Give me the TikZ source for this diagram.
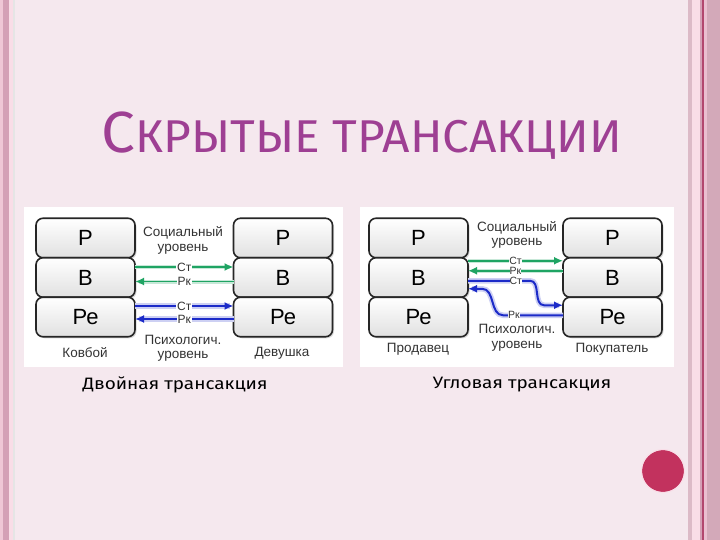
\documentclass[tikz,border=0pt]{standalone}
\usepackage{fontspec}
\setmainfont{Liberation Sans}
\newfontfamily\gothic{Fira Sans}
\usetikzlibrary{arrows.meta,positioning,shadows}
\definecolor{slideBg}{HTML}{F5E8EE}
\definecolor{slideTitle}{HTML}{9E3F93}
\definecolor{stripeA}{HTML}{EFC7D6}
\definecolor{stripeB}{HTML}{D4A0B6}
\definecolor{stripeC}{HTML}{F9DDE7}
\definecolor{stripeD}{HTML}{B2476E}
\definecolor{stripeE}{HTML}{D3A9B9}
\definecolor{arrGreen}{HTML}{1FA463}
\definecolor{arrBlue}{HTML}{1C2BC8}
\definecolor{dotRed}{HTML}{C2325E}
\definecolor{txtGray}{HTML}{333333}

\begin{document}
\begin{tikzpicture}[x=1pt,y=-1pt,
every node/.style={font=\fontsize{13.5}{15}\selectfont, text=txtGray},
ego/.style={draw=black!85, line width=1.6pt, rounded corners=7pt, minimum width=99pt, minimum height=39.5pt, outer sep=0pt, inner sep=0pt, top color=white, bottom color=black!12, drop shadow={opacity=0.3, shadow xshift=1.5pt, shadow yshift=-1.5pt}, font=\fontsize{22}{24}\selectfont, text=black},
lvl/.style={align=center, font=\fontsize{13.5}{14.5}\selectfont},
tag/.style={fill=white, inner sep=1pt, font=\fontsize{12}{13}\selectfont},
tagS/.style={fill=white, inner sep=0pt, font=\fontsize{10.5}{11}\selectfont},
subcap/.style={text=black},
garr/.style={-{Latex[length=9pt,width=8pt]}, arrGreen, line width=1.8pt, preaction={draw, arrGreen!25, line width=4pt, -, shorten >=4pt}},
barr/.style={-{Latex[length=9pt,width=8pt]}, arrBlue, line width=2pt, preaction={draw, arrBlue!22, line width=5.5pt, -, shorten >=4pt}}
]
% slide background and side stripes
\useasboundingbox (0,0) rectangle (720,540);
\fill[slideBg] (0,0) rectangle (720,540);
\fill[stripeA] (0,0) rectangle (3,540);
\fill[stripeB] (3,0) rectangle (9,540);
\fill[stripeC] (9,0) rectangle (13,540);
\fill[white!80!gray] (13,0) rectangle (14.5,540);
\fill[stripeE!80!white] (688,0) rectangle (692,540);
\fill[stripeC] (692,0) rectangle (700,540);
\fill[stripeB] (700,0) rectangle (702,540);
\fill[stripeD] (702,0) rectangle (703.5,540);
\fill[stripeA!80!stripeB] (703.5,0) rectangle (707,540);
\fill[stripeE] (707,0) rectangle (720,540);

% title
\node[anchor=base, text=slideTitle, inner sep=0pt] (title) at (362,153) {\scalebox{1.04}[1]{\gothic\fontsize{58}{58}\selectfont С\fontsize{46}{46}\selectfont КРЫТЫЕ ТРАНСАКЦИИ}};

% left panel: double transaction
\fill[white] (24,207) rectangle (343,367);
\node[ego] (kP) at (85.5,238) {Р};
\node[ego, below=0pt of kP] (kB) {В};
\node[ego, below=0pt of kB] (kPe) {Ре};
\node[ego] (dP) at (283,238) {Р};
\node[ego, below=0pt of dP] (dB) {В};
\node[ego, below=0pt of dB] (dPe) {Ре};
\node[lvl] (kSoc) at (183,240.5) {Социальный\\уровень};
\node[lvl] (kPsy) at (183,348.5) {Психологич.\\уровень};
\node (kName) at (85,353) {Ковбой};
\node (dName) at (282,353) {Девушка};
\draw[garr] ([yshift=10.5pt]kB.east) -- node[tag]{Ст} ([yshift=10.5pt]dB.west);
\draw[garr] ([yshift=-4pt]dB.west) -- node[tag]{Рк} ([yshift=-4pt]kB.east);
\draw[barr] ([yshift=11pt]kPe.east) -- node[tag]{Ст} ([yshift=11pt]dPe.west);
\draw[barr] ([yshift=-2pt]dPe.west) -- node[tag]{Рк} ([yshift=-2pt]kPe.east);
\node[subcap] (kCap) at (175,385) {\scalebox{1.15}[1]{\gothic\fontsize{16.5}{18}\selectfont Двойная трансакция}};

% right panel: angular transaction
\fill[white] (360,207) rectangle (674,367);
\node[ego] (pP) at (418.5,238) {Р};
\node[ego, below=0pt of pP] (pB) {В};
\node[ego, below=0pt of pB] (pPe) {Ре};
\node[ego] (cP) at (612.5,238) {Р};
\node[ego, below=0pt of cP] (cB) {В};
\node[ego, below=0pt of cB] (cPe) {Ре};
\node[lvl] (pSoc) at (517,235) {Социальный\\уровень};
\node[lvl] (pPsy) at (517,338) {Психологич.\\уровень};
\node (pName) at (418,349) {Продавец};
\node (cName) at (612,349) {Покупатель};
\draw[garr] ([yshift=16.75pt]pB.east) -- node[tagS]{Ст} ([yshift=16.75pt]cB.west);
\draw[garr] ([yshift=6.75pt]cB.west) -- node[tagS]{Рк} ([yshift=6.75pt]pB.east);
\draw[barr] ([yshift=-3.25pt]pB.east) -- ++(62,0) node[tagS, pos=0.77]{Ст} to[out=0,in=180] ([yshift=11.75pt, xshift=-19pt]cPe.west) -- ([yshift=11.75pt]cPe.west);
\draw[barr] ([yshift=1.75pt]cPe.west) -- ++(-60,0) node[tagS, pos=0.82]{Рк} to[out=180,in=0] ([yshift=-11.25pt, xshift=14pt]pB.east) -- ([yshift=-11.25pt]pB.east);
\node[subcap] (pCap) at (522,385) {\scalebox{1.15}[1]{\gothic\fontsize{16.5}{18}\selectfont Угловая трансакция}};

% red dot
\fill[dotRed] (663,471) circle (21);
\draw[stripeC, line width=1pt] (663,471) circle (21.5);
\end{tikzpicture}
\end{document}
